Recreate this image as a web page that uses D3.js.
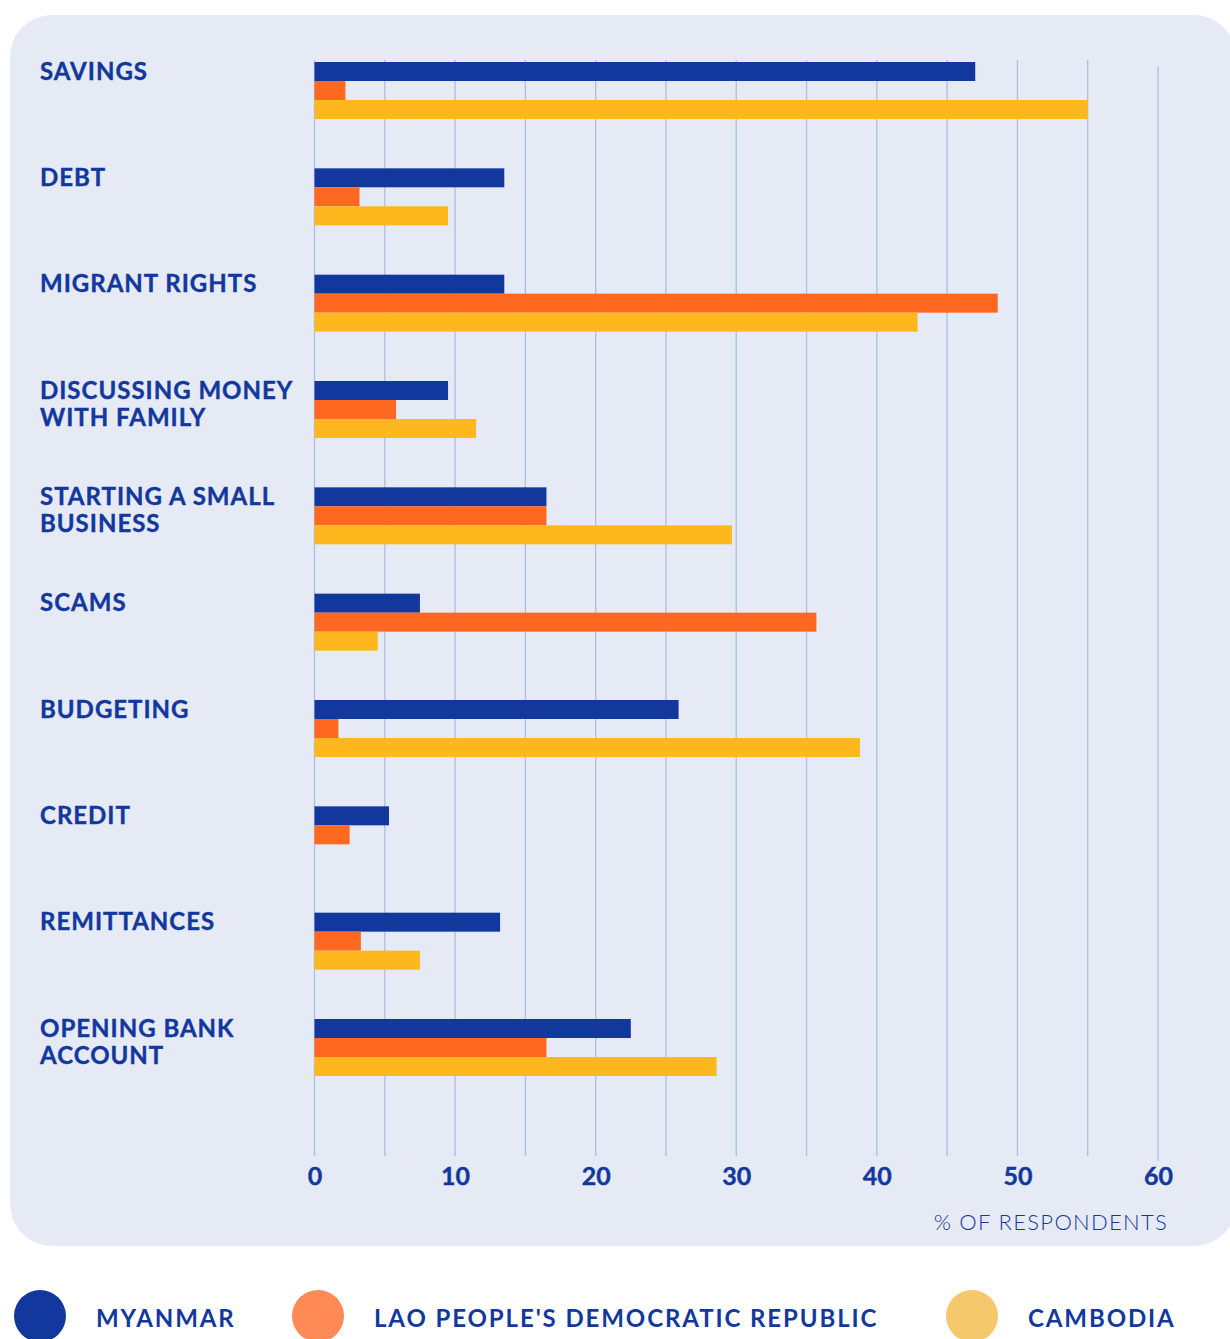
<!DOCTYPE html>
<html>
<head>
<meta charset="utf-8">
<script src="https://cdn.jsdelivr.net/npm/d3@7"></script>
<style>
  body { margin: 0; background: #fff; }
  svg { display: block; font-family: Lato, 'Open Sans', sans-serif; }
</style>
</head>
<body>
<svg id="chart"></svg>
<script>
const svgWidth = 1230
const svgHeight = 1339

const categories = [
    ['SAVINGS'],
    ['DEBT'],
    ['MIGRANT RIGHTS'],
    ['DISCUSSING MONEY', 'WITH FAMILY'],
    ['STARTING A SMALL', 'BUSINESS'],
    ['SCAMS'],
    ['BUDGETING'],
    ['CREDIT'],
    ['REMITTANCES'],
    ['OPENING BANK', 'ACCOUNT']
]
const series = ['MYANMAR', "LAO PEOPLE'S DEMOCRATIC REPUBLIC", 'CAMBODIA']
const myanmar = [47, 13.5, 13.5, 9.5, 16.5, 7.5, 25.9, 5.3, 13.2, 22.5]
const lao = [2.2, 3.2, 48.6, 5.8, 16.5, 35.7, 1.7, 2.5, 3.3, 16.5]
const cambodia = [55, 9.5, 42.9, 11.5, 29.7, 4.5, 38.8, 0, 7.5, 28.6]
const xTicks = [0, 10, 20, 30, 40, 50, 60]
const gridTicks = [0, 5, 10, 15, 20, 25, 30, 35, 40, 45, 50, 55, 60]

const barColours = ['#12389e', '#ff6820', '#ffb71e']
const legendColours = ['#12389e', '#ff8a55', '#f6c86c']
const textColour = '#12389e'

const svg = d3.select('#chart')
    .attr('width', svgWidth)
    .attr('height', svgHeight)

// panel
svg.append('rect')
    .attr('x', 10).attr('y', 15)
    .attr('width', 1226).attr('height', 1231)
    .attr('rx', 42)
    .attr('fill', '#e6eaf5')

const keys = categories.map(d => d.join(' '))
const data = keys.map((k, i) => ({ key: k, lines: categories[i], values: [myanmar[i], lao[i], cambodia[i]] }))

const x = d3.scaleLinear().domain([0, 60]).range([314.5, 1158])

const y = d3.scaleBand()
    .domain(keys)
    .range([62, 1076])
    .paddingInner(0.464)
    .paddingOuter(0)

const ySub = d3.scaleBand()
    .domain(d3.range(3))
    .range([0, y.bandwidth()])

// grid
svg.append('g')
    .selectAll('line')
    .data(gridTicks)
    .join('line')
    .attr('x1', d => x(d)).attr('x2', d => x(d))
    .attr('y1', d => d === 60 ? 66 : 60)
    .attr('y2', d => d === 60 ? 1161 : 1156)
    .attr('stroke', '#aebde2')
    .attr('stroke-width', 1.3)

// bars
svg.append('g')
    .selectAll('g')
    .data(data)
    .join('g')
    .attr('transform', d => `translate(0, ${y(d.key)})`)
    .selectAll('rect')
    .data(d => d.values.map((v, i) => ({ i, v })))
    .join('rect')
    .attr('x', x(0))
    .attr('y', d => ySub(d.i))
    .attr('width', d => x(d.v) - x(0))
    .attr('height', ySub.bandwidth())
    .attr('fill', d => barColours[d.i])

// category labels
svg.append('g')
    .selectAll('text')
    .data(data)
    .join('text')
    .attr('x', 40)
    .attr('y', d => y(d.key) + 17.5)
    .attr('fill', textColour)
    .attr('stroke', textColour)
    .attr('stroke-width', 0.4)
    .attr('font-size', 24)
    .attr('font-weight', 700)
    .attr('letter-spacing', 1)
    .selectAll('tspan')
    .data(d => d.lines)
    .join('tspan')
    .attr('x', 40)
    .attr('dy', (d, i) => i === 0 ? 0 : 27)
    .text(d => d)

// x axis
const axis = svg.append('g')
    .attr('transform', 'translate(0, 1164)')
    .call(d3.axisBottom(x).tickValues(xTicks).tickSize(0).tickPadding(0))
axis.select('.domain').remove()
axis.selectAll('text')
    .attr('dy', 21)
    .attr('fill', textColour)
    .attr('stroke', textColour)
    .attr('stroke-width', 0.4)
    .attr('font-size', 25)
    .attr('font-weight', 700)
    .attr('font-family', 'Lato, sans-serif')

svg.append('text')
    .attr('x', 1168).attr('y', 1230)
    .attr('text-anchor', 'end')
    .attr('fill', textColour)
    .attr('font-size', 22)
    .attr('font-weight', 300)
    .attr('letter-spacing', 1.3)
    .text('% OF RESPONDENTS')

// legend
const legendX = [40, 318, 972]
const legend = svg.append('g')
    .selectAll('g')
    .data(series)
    .join('g')
    .attr('transform', (d, i) => `translate(${legendX[i]}, 1316)`)
legend.append('circle')
    .attr('r', 26)
    .attr('fill', (d, i) => legendColours[i])
legend.append('text')
    .attr('x', 56)
    .attr('y', 11)
    .attr('fill', textColour)
    .attr('font-size', 24)
    .attr('font-weight', 700)
    .attr('letter-spacing', 1.9)
    .text(d => d)
</script>
</body>
</html>
